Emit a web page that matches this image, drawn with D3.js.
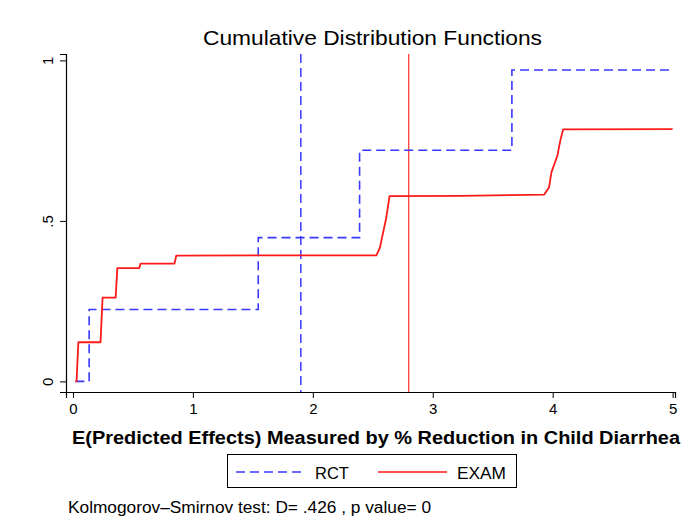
<!DOCTYPE html>
<html>
<head>
<meta charset="utf-8">
<script src="https://cdn.jsdelivr.net/npm/d3@7"></script>
<style>
  body { margin: 0; background: #fff; }
  text { font-family: "Liberation Sans", Arial, Helvetica, sans-serif; fill: #000; }
</style>
</head>
<body>
<svg id="chart" width="689" height="527"></svg>
<script>
// RCT step cdf (jump points)
const rctX = [0.02, 0.135, 1.545, 2.39, 3.66, 5.0];
const rctY = [0, 0.224, 0.448, 0.72, 0.97, 0.97];

// EXAM cdf (smoothed)
const examX = [0.02, 0.03, 0.045, 0.23, 0.247, 0.356, 0.37, 0.553, 0.564, 0.847, 0.861, 2.53, 2.56, 2.577, 2.61, 2.64, 3.23, 3.93, 3.97, 3.99, 4.04, 4.064, 4.087, 5.0];
const examY = [0, 0, 0.122, 0.122, 0.261, 0.261, 0.353, 0.353, 0.367, 0.367, 0.392, 0.393, 0.417, 0.448, 0.505, 0.577, 0.578, 0.582, 0.605, 0.652, 0.704, 0.751, 0.785, 0.786];

// means (vertical reference lines)
const meanRct = 1.9;
const meanExam = 2.8;

const xTicks = [0, 1, 2, 3, 4, 5];
const yTicks = [0, 0.5, 1];
const yTickLabels = ["0", ".5", "1"];

const svg = d3.select("#chart");
svg.append("rect").attr("width", 689).attr("height", 527).attr("fill", "#fff");

const x = d3.scaleLinear().domain([-0.058, 5.02]).range([66, 675]);
const y = d3.scaleLinear().domain([-0.033, 1.02]).range([392, 54]);

const BLUE = "#3838ff", RED = "#ff1a1a";

// axes
const xAxis = svg.append("g").attr("transform", "translate(0,392)")
  .call(d3.axisBottom(x).tickValues(xTicks).tickFormat(d3.format("d")).tickSize(6).tickPadding(5));
const yAxis = svg.append("g").attr("transform", "translate(66,0)")
  .call(d3.axisLeft(y).tickValues(yTicks).tickFormat((d, i) => yTickLabels[i]).tickSize(6));
[xAxis, yAxis].forEach(g => {
  g.select(".domain").attr("stroke", "#000").attr("stroke-width", 1.2);
  g.selectAll(".tick line").attr("stroke", "#000").attr("stroke-width", 1);
  g.selectAll("text").style("font-family", "Liberation Sans, Arial, sans-serif").style("font-size", "15px").attr("fill", "#000");
});
yAxis.selectAll(".tick text")
  .attr("x", null).attr("dy", null)
  .attr("text-anchor", "middle")
  .attr("transform", "translate(-13,0) rotate(-90)");

// mean lines
svg.append("line")
  .attr("x1", x(meanRct)).attr("x2", x(meanRct)).attr("y1", y(1.02)).attr("y2", y(-0.033))
  .attr("stroke", BLUE).attr("stroke-width", 1.5).attr("stroke-dasharray", "9,5");
svg.append("line")
  .attr("x1", x(meanExam)).attr("x2", x(meanExam)).attr("y1", y(1.02)).attr("y2", y(-0.033))
  .attr("stroke", RED).attr("stroke-width", 1.1);

// cdf lines
const rctPts = rctX.map((v, i) => [v, rctY[i]]);
const examPts = examX.map((v, i) => [v, examY[i]]);

svg.append("path").datum(rctPts)
  .attr("d", d3.line().x(d => x(d[0])).y(d => y(d[1])).curve(d3.curveStepAfter))
  .attr("fill", "none").attr("stroke", BLUE).attr("stroke-width", 1.6).attr("stroke-dasharray", "9,5");

svg.append("path").datum(examPts)
  .attr("d", d3.line().x(d => x(d[0])).y(d => y(d[1])))
  .attr("fill", "none").attr("stroke", RED).attr("stroke-width", 1.8).attr("stroke-linejoin", "round");

// titles (stretched to the widths seen in the original)
svg.append("text").attr("x", 203).attr("y", 45)
  .attr("textLength", 339).attr("lengthAdjust", "spacingAndGlyphs")
  .style("font-size", "21px").text("Cumulative Distribution Functions");
svg.append("text").attr("x", 72).attr("y", 444)
  .attr("textLength", 608).attr("lengthAdjust", "spacingAndGlyphs")
  .style("font-size", "18px").style("font-weight", "bold")
  .text("E(Predicted Effects) Measured by % Reduction in Child Diarrhea");

// legend
const lg = svg.append("g");
lg.append("rect").attr("x", 227.5).attr("y", 454.5).attr("width", 289).attr("height", 33)
  .attr("fill", "#fff").attr("stroke", "#000").attr("stroke-width", 1);
lg.append("line").attr("x1", 236).attr("x2", 303).attr("y1", 472).attr("y2", 472)
  .attr("stroke", BLUE).attr("stroke-width", 1.6).attr("stroke-dasharray", "9,5");
lg.append("text").attr("x", 315).attr("y", 479).style("font-size", "16.5px").text("RCT");
lg.append("line").attr("x1", 378).attr("x2", 447).attr("y1", 472).attr("y2", 472)
  .attr("stroke", RED).attr("stroke-width", 1.6);
lg.append("text").attr("x", 457).attr("y", 479)
  .attr("textLength", 49).attr("lengthAdjust", "spacingAndGlyphs")
  .style("font-size", "16.5px").text("EXAM");

// note
svg.append("text").attr("x", 68).attr("y", 513)
  .attr("textLength", 363).attr("lengthAdjust", "spacingAndGlyphs")
  .style("font-size", "16px")
  .text("Kolmogorov\u2013Smirnov test: D= .426 , p value= 0");
</script>
</body>
</html>
